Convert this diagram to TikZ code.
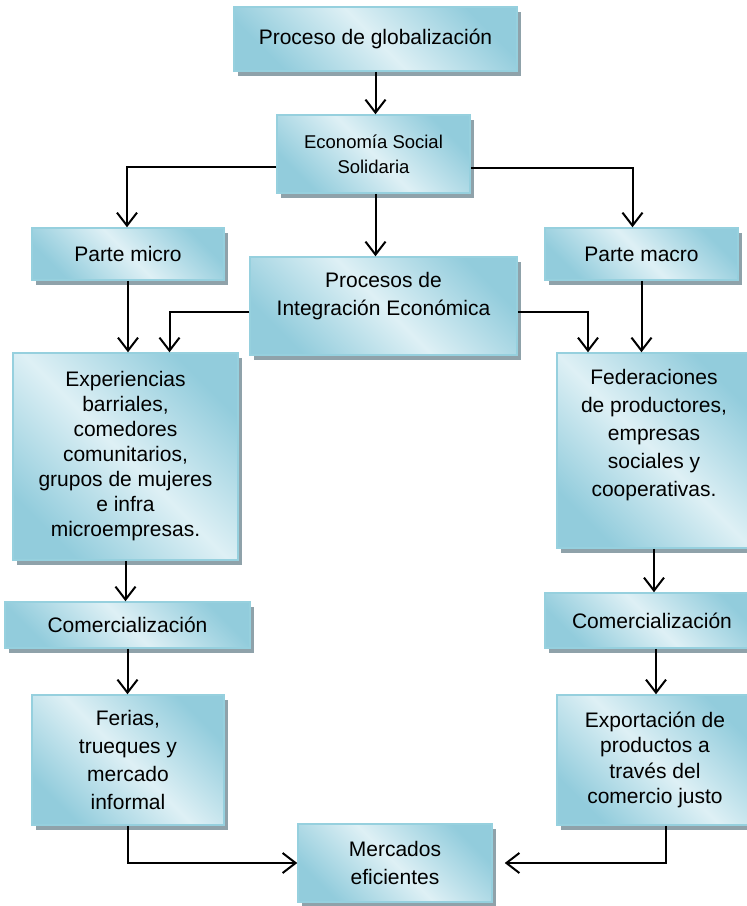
\documentclass[tikz,border=0pt]{standalone}
\usepackage{fontspec}
\setmainfont{Liberation Sans}
\usetikzlibrary{arrows.meta,shadows}
\definecolor{cajaosc}{RGB}{146,204,220}
\definecolor{cajaclr}{RGB}{222,240,245}
\definecolor{cajaborde}{RGB}{150,208,222}
\definecolor{sombra}{RGB}{143,162,170}

\begin{document}
\begin{tikzpicture}[x=1pt,y=-1pt,
	caja/.style={draw=cajaborde, line width=1.5pt, top color=cajaosc, bottom color=cajaosc, middle color=cajaclr, shading angle=-45, drop shadow={shadow xshift=4pt, shadow yshift=-5pt, fill=sombra, opacity=1}, align=center, inner sep=0pt, font=\fontsize{21}{28}\selectfont},
	texto/.style={align=center, inner sep=0pt, font=\fontsize{21}{28}\selectfont},
	flecha/.style={line width=2pt, -{Straight Barb[length=13pt,width=20pt]}}]
	\useasboundingbox (0,0) rectangle (747,906);

	\node[caja, minimum width=283pt, minimum height=64pt] (glob) at (375.5,39) {Proceso de globalización};
	\node[caja, minimum width=193pt, minimum height=78pt, font=\fontsize{18.5}{25}\selectfont] (ess) at (373.5,154) {Economía Social\\Solidaria};
	\node[caja, minimum width=192pt, minimum height=52pt] (micro) at (128,254) {Parte micro};
	\node[caja, minimum width=193pt, minimum height=52pt] (macro) at (641.5,254) {Parte macro};
	\node[caja, minimum width=267pt, minimum height=98pt] (integ) at (383.5,306) {};
	\node[texto] (integtxt) at (383.5,296) {Procesos de\\Integración Económica};
	\node[caja, minimum width=225pt, minimum height=207pt, font=\fontsize{21}{25}\selectfont] (exper) at (125.5,456.5) {Experiencias\\barriales,\\comedores\\comunitarios,\\grupos de mujeres\\e infra\\microempresas.};
	\node[caja, minimum width=194pt, minimum height=195pt] (fede) at (654,450.5) {};
	\node[texto] (fedetxt) at (654,435) {Federaciones\\de productores,\\empresas\\sociales y\\cooperativas.};
	\node[caja, minimum width=245pt, minimum height=46pt] (comL) at (127.5,625) {Comercialización};
	\node[caja, minimum width=214pt, minimum height=55pt] (comR) at (652,620.5) {Comercialización};
	\node[caja, minimum width=192pt, minimum height=130pt] (ferias) at (128,760) {Ferias,\\trueques y\\mercado\\informal};
	\node[caja, minimum width=196pt, minimum height=130pt, font=\fontsize{21}{25.5}\selectfont] (export) at (655,760) {Exportación de\\productos a\\través del\\comercio justo};
	\node[caja, minimum width=194pt, minimum height=78pt] (merc) at (395,863) {Mercados\\eficientes};

	\draw[flecha] (glob.south) -- (glob.south |- ess.north);
	\draw[flecha] ([yshift=-13pt]ess.west) -| ([xshift=-1pt]micro.north);
	\draw[flecha] ([yshift=-14pt]ess.east) -| ([xshift=-9pt]macro.north);
	\draw[flecha] ([xshift=2pt]ess.south) -- ([xshift=2pt]ess.south |- integ.north);
	\draw[flecha] (micro.south) -- (micro.south |- exper.north);
	\draw[flecha] ([yshift=-6pt]integ.west) -| ([xshift=44pt]exper.north);
	\draw[flecha] ([yshift=-6pt]integ.east) -| ([xshift=-66pt]fede.north);
	\draw[flecha] (macro.south) -- (macro.south |- fede.north);
	\draw[flecha] (exper.south) -- (exper.south |- comL.north);
	\draw[flecha] (fede.south) -- (fede.south |- comR.north);
	\draw[flecha] (comL.south) -- (comL.south |- ferias.north);
	\draw[flecha] ([xshift=4pt]comR.south) -- ([xshift=4pt]comR.south |- export.north);
	\draw[flecha] (ferias.south) |- (merc.west);
	\draw[flecha, shorten >=12pt] ([xshift=11pt]export.south) |- (merc.east);
\end{tikzpicture}
\end{document}
